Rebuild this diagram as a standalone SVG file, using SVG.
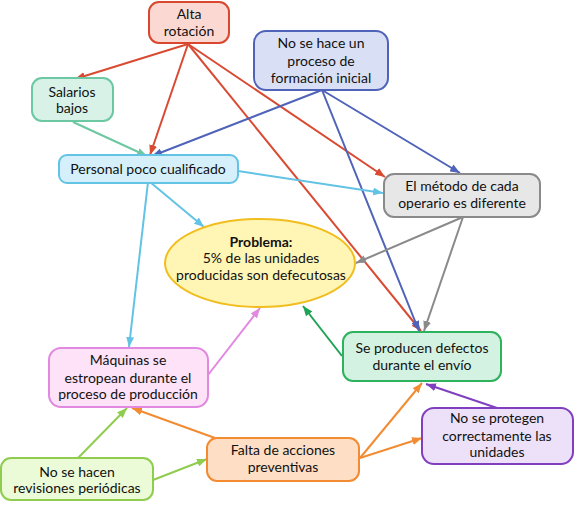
<svg xmlns="http://www.w3.org/2000/svg" width="575" height="507" viewBox="0 0 575 507">
<style>
text{font-family:Lato,"Noto Sans","DejaVu Sans",sans-serif;font-size:14px;fill:#111;text-anchor:middle}
.n{stroke-width:2}
.c line{stroke-width:2;fill:none}
</style>
<defs>
<marker id="mr" markerUnits="userSpaceOnUse" markerWidth="10" markerHeight="8" refX="10" refY="4" orient="auto"><path d="M0,0 L10,4 L0,8 z" fill="#d94a32"/></marker>
<marker id="mb" markerUnits="userSpaceOnUse" markerWidth="10" markerHeight="8" refX="10" refY="4" orient="auto"><path d="M0,0 L10,4 L0,8 z" fill="#4f63b9"/></marker>
<marker id="mt" markerUnits="userSpaceOnUse" markerWidth="10" markerHeight="8" refX="10" refY="4" orient="auto"><path d="M0,0 L10,4 L0,8 z" fill="#6cc8a2"/></marker>
<marker id="ml" markerUnits="userSpaceOnUse" markerWidth="10" markerHeight="8" refX="10" refY="4" orient="auto"><path d="M0,0 L10,4 L0,8 z" fill="#62c3e5"/></marker>
<marker id="mg" markerUnits="userSpaceOnUse" markerWidth="10" markerHeight="8" refX="10" refY="4" orient="auto"><path d="M0,0 L10,4 L0,8 z" fill="#8a8a8a"/></marker>
<marker id="me" markerUnits="userSpaceOnUse" markerWidth="10" markerHeight="8" refX="10" refY="4" orient="auto"><path d="M0,0 L10,4 L0,8 z" fill="#1fa356"/></marker>
<marker id="mp" markerUnits="userSpaceOnUse" markerWidth="10" markerHeight="8" refX="10" refY="4" orient="auto"><path d="M0,0 L10,4 L0,8 z" fill="#e188e0"/></marker>
<marker id="mo" markerUnits="userSpaceOnUse" markerWidth="10" markerHeight="8" refX="10" refY="4" orient="auto"><path d="M0,0 L10,4 L0,8 z" fill="#f28b32"/></marker>
<marker id="mlg" markerUnits="userSpaceOnUse" markerWidth="10" markerHeight="8" refX="10" refY="4" orient="auto"><path d="M0,0 L10,4 L0,8 z" fill="#8fcc4f"/></marker>
<marker id="mv" markerUnits="userSpaceOnUse" markerWidth="10" markerHeight="8" refX="10" refY="4" orient="auto"><path d="M0,0 L10,4 L0,8 z" fill="#7f3fbf"/></marker>
</defs>
<rect width="575" height="507" fill="#fff"/>
<g id="connectors" class="c">
<line x1="188" y1="44" x2="75" y2="79" stroke="#d94a32" marker-end="url(#mr)"/>
<line x1="188" y1="44" x2="150" y2="155" stroke="#d94a32" marker-end="url(#mr)"/>
<line x1="188" y1="44" x2="385" y2="177" stroke="#d94a32" marker-end="url(#mr)"/>
<line x1="188" y1="44" x2="421" y2="331" stroke="#d94a32" marker-end="url(#mr)"/>
<line x1="322" y1="90" x2="152" y2="156" stroke="#4f63b9" marker-end="url(#mb)"/>
<line x1="322" y1="90" x2="460" y2="173" stroke="#4f63b9" marker-end="url(#mb)"/>
<line x1="322" y1="90" x2="419" y2="331" stroke="#4f63b9" marker-end="url(#mb)"/>
<line x1="73" y1="122" x2="147" y2="156" stroke="#6cc8a2" marker-end="url(#mt)"/>
<line x1="238" y1="171" x2="383" y2="193" stroke="#62c3e5" marker-end="url(#ml)"/>
<line x1="150" y1="182" x2="204" y2="227" stroke="#62c3e5" marker-end="url(#ml)"/>
<line x1="148" y1="182" x2="129" y2="347" stroke="#62c3e5" marker-end="url(#ml)"/>
<line x1="463" y1="217" x2="356" y2="263" stroke="#8a8a8a" marker-end="url(#mg)"/>
<line x1="463" y1="217" x2="424" y2="331" stroke="#8a8a8a" marker-end="url(#mg)"/>
<line x1="342" y1="356" x2="303" y2="306" stroke="#1fa356" marker-end="url(#me)"/>
<line x1="208" y1="375" x2="260" y2="308" stroke="#e188e0" marker-end="url(#mp)"/>
<line x1="215" y1="438" x2="132" y2="408" stroke="#f28b32" marker-end="url(#mo)"/>
<line x1="360" y1="458" x2="422" y2="383" stroke="#f28b32" marker-end="url(#mo)"/>
<line x1="360" y1="458" x2="422" y2="438" stroke="#f28b32" marker-end="url(#mo)"/>
<line x1="78" y1="458" x2="127" y2="408" stroke="#8fcc4f" marker-end="url(#mlg)"/>
<line x1="153" y1="480" x2="207" y2="459" stroke="#8fcc4f" marker-end="url(#mlg)"/>
<line x1="497" y1="408" x2="426" y2="384" stroke="#7f3fbf" marker-end="url(#mv)"/>
</g>
<g id="alta-rotacion">
<rect class="n" x="149" y="2" width="80" height="41" rx="10" fill="#fbd9d2" stroke="#d9472f"/>
<text x="189" y="19">Alta</text><text x="189" y="36">rotación</text>
</g>
<g id="formacion-inicial">
<rect class="n" x="254" y="31" width="134" height="59" rx="12" fill="#d9e0f5" stroke="#4f63b9"/>
<text x="321" y="48">No se hace un</text><text x="321" y="66">proceso de</text><text x="321" y="83">formación inicial</text>
</g>
<g id="salarios-bajos">
<rect class="n" x="32" y="78" width="81" height="43" rx="10" fill="#d8f2e8" stroke="#6cc8a2"/>
<text x="72" y="97">Salarios</text><text x="72" y="113">bajos</text>
</g>
<g id="personal">
<rect class="n" x="59" y="155" width="179" height="28" rx="8" fill="#d5f0fa" stroke="#62c3e5"/>
<text x="148" y="174">Personal poco cualificado</text>
</g>
<g id="metodo">
<rect class="n" x="384" y="174" width="156" height="43" rx="10" fill="#e7e7e7" stroke="#8a8a8a"/>
<text x="462" y="191">El método de cada</text><text x="462" y="208">operario es diferente</text>
</g>
<g id="problema">
<ellipse class="n" cx="260" cy="263" rx="95" ry="44" fill="#fff6b5" stroke="#f2bd1f"/>
<text x="261" y="247" font-weight="bold">Problema:</text><text x="261" y="263">5% de las unidades</text><text x="261" y="280">producidas son defecutosas</text>
</g>
<g id="defectos-envio">
<rect class="n" x="343" y="332" width="158" height="49" rx="10" fill="#d3f2e1" stroke="#2db25e"/>
<text x="422" y="353">Se producen defectos</text><text x="422" y="370">durante el envío</text>
</g>
<g id="maquinas">
<rect class="n" x="49" y="348" width="159" height="59" rx="12" fill="#fde2f8" stroke="#e188e0"/>
<text x="128" y="365">Máquinas se</text><text x="128" y="383">estropean durante el</text><text x="128" y="399">proceso de producción</text>
</g>
<g id="revisiones">
<rect class="n" x="1" y="458" width="152" height="42" rx="10" fill="#ebfbd8" stroke="#8fcc4f"/>
<text x="77" y="477">No se hacen</text><text x="77" y="493">revisiones periódicas</text>
</g>
<g id="acciones-preventivas">
<rect class="n" x="207" y="438" width="152" height="43" rx="10" fill="#fedec4" stroke="#f28b32"/>
<text x="283" y="455">Falta de acciones</text><text x="283" y="472">preventivas</text>
</g>
<g id="proteger-unidades">
<rect class="n" x="422" y="408" width="151" height="56" rx="12" fill="#ece1f9" stroke="#7f3fbf"/>
<text x="497" y="423">No se protegen</text><text x="497" y="441">correctamente las</text><text x="497" y="457">unidades</text>
</g>
</svg>
